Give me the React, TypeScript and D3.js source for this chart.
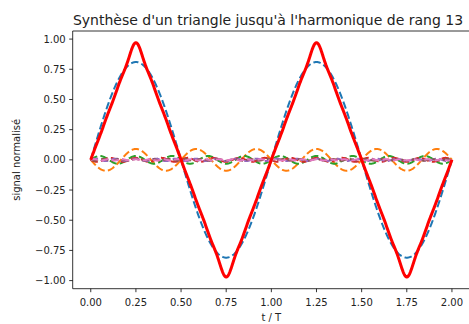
import React from 'react';
import * as d3 from 'd3';

// harmonic ranks, amplitudes and sign of each sine term
const ranks = [1, 3, 5, 7, 9, 11, 13];
const amplitudes = [0.81, 0.09, 0.032, 0.0165, 0.01, 0.0067, 0.0048];
const signs = [1, -1, 1, -1, 1, -1, 1];
const colors = ['#1f77b4', '#ff7f0e', '#2ca02c', '#d62728', '#9467bd', '#8c564b', '#e377c2'];

const xTicks = [0, 0.25, 0.5, 0.75, 1, 1.25, 1.5, 1.75, 2];
const yTicks = [-1, -0.75, -0.5, -0.25, 0, 0.25, 0.5, 0.75, 1];

const title = "Synthèse d'un triangle jusqu'à l'harmonique de rang 13";

const W = 469;
const H = 324;
const margin = { left: 72.7, right: 470, top: 31, bottom: 288.7 };

const t = d3.range(0, 1001).map(i => (2 * i) / 1000);

const components = ranks.map((n, i) =>
  t.map(tt => signs[i] * amplitudes[i] * Math.sin(2 * Math.PI * n * tt))
);
const total = t.map((_, j) => d3.sum(components, c => c[j]));

const fmt = (v: number) => d3.format('.2f')(v).replace('-', '\u2212');

const App = () => {
  const x = d3.scaleLinear().domain([-0.1, 2.1]).range([margin.left, margin.right]);
  const yMax = d3.max(total, d => Math.abs(d)) as number;
  const pad = yMax * 0.1;
  const y = d3.scaleLinear().domain([-yMax - pad, yMax + pad]).range([margin.bottom, margin.top]);

  const line = d3.line<number>()
    .x((_, j) => x(t[j]))
    .y(d => y(d));

  const font = 'DejaVu Sans, sans-serif';

  return (
    <svg width={W} height={H} style={{ position: 'absolute', left: 0, top: 0 }} fontFamily={font}>
      <rect width={W} height={H} fill="#fff" />
      <g>
        {components.map((c, i) => (
          <path key={i} d={line(c) || ''} fill="none" stroke={colors[i]}
            strokeWidth={2} strokeDasharray="7.4,3.2" />
        ))}
        <path d={line(total) || ''} fill="none" stroke="#ff0000" strokeWidth={3}
          strokeLinejoin="round" />
      </g>

      {/* spines */}
      <line x1={margin.left} x2={margin.left} y1={margin.top} y2={margin.bottom} stroke="#000" strokeWidth={0.8} />
      <line x1={margin.left} x2={margin.right} y1={margin.bottom} y2={margin.bottom} stroke="#000" strokeWidth={0.8} />
      <line x1={margin.left} x2={margin.right} y1={margin.top} y2={margin.top} stroke="#000" strokeWidth={0.8} />
      <line x1={margin.right} x2={margin.right} y1={margin.top} y2={margin.bottom} stroke="#000" strokeWidth={0.8} />

      {xTicks.map(v => (
        <g key={v}>
          <line x1={x(v)} x2={x(v)} y1={margin.bottom} y2={margin.bottom + 3.5} stroke="#000" strokeWidth={0.8} />
          <text x={x(v)} y={305.5} textAnchor="middle" fontSize={10} fill="#222">{fmt(v)}</text>
        </g>
      ))}
      {yTicks.map(v => (
        <g key={v}>
          <line x1={margin.left - 3.5} x2={margin.left} y1={y(v)} y2={y(v)} stroke="#000" strokeWidth={0.8} />
          <text x={margin.left - 7} y={y(v)} dy="0.35em" textAnchor="end" fontSize={10} fill="#222">{fmt(v)}</text>
        </g>
      ))}

      <text x={268} y={25} textAnchor="middle" fontSize={14} fill="#222">{title}</text>
      <text x={(margin.left + margin.right) / 2} y={320.5} textAnchor="middle" fontSize={10} fill="#222">t / T</text>
      <text transform={`translate(19.5, ${(margin.top + margin.bottom) / 2}) rotate(-90)`}
        textAnchor="middle" fontSize={10} fill="#222">signal normalisé</text>
    </svg>
  );
};

export default App;
